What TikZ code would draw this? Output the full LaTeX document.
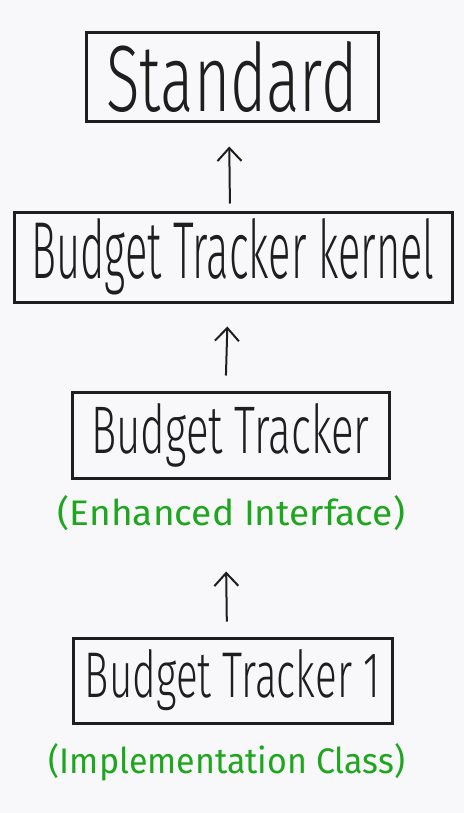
\documentclass[tikz,border=0pt]{standalone}
\usepackage{fontspec}
\setmainfont{Fira Sans}[UprightFont=* Light]
\newfontfamily\lblfont{Fira Sans}
\usetikzlibrary{arrows.meta}
\definecolor{bg}{HTML}{F8F8FA}
\definecolor{ink}{HTML}{1E1E1E}
\definecolor{grn}{HTML}{1FA61F}
\tikzset{
  box/.style={draw=ink, line width=3pt, inner sep=0pt, text=ink},
  lbl/.style={text=grn, inner sep=0pt, font=\lblfont},
  up/.style={draw=ink, line width=2pt, -{Straight Barb[length=13pt,width=24pt,line width=2pt]}}
}
\begin{document}
\begin{tikzpicture}[x=1pt,y=-1pt]
\fill[bg] (0,0) rectangle (464,813);
\useasboundingbox (0,0) rectangle (464,813);
\node[box, minimum width=292pt, minimum height=89pt] (std) at (232,77.5) {\resizebox{251pt}{70pt}{Standard}};
\node[box, minimum width=438pt, minimum height=90pt] (ker) at (233,257) {\resizebox{403pt}{60pt}{Budget Tracker kernel}};
\node[box, minimum width=317pt, minimum height=86pt] (bt) at (230.5,435) {\resizebox{278pt}{50pt}{Budget Tracker}};
\node[box, minimum width=319pt, minimum height=85pt] (bt1) at (232.5,680.5) {\resizebox{295pt}{48pt}{Budget Tracker 1}};
\node[lbl] (l1) at (231.5,513) {\resizebox{347pt}{30pt}{(Enhanced Interface)}};
\node[lbl] (l2) at (227,762) {\resizebox{356pt}{30pt}{(Implementation Class)}};
\draw[up, shorten <=7pt, shorten >=23pt] ([xshift=-3pt]ker.north) -- ([xshift=-3pt]std.south);
\draw[up, shorten <=15pt, shorten >=23pt] ([xshift=-5pt]bt.north) -- ([xshift=-5pt]ker.south);
\draw[up, shorten <=15pt, shorten >=92pt] ([xshift=-5.5pt]bt1.north) -- ([xshift=-5.5pt]bt.south);
\end{tikzpicture}
\end{document}
